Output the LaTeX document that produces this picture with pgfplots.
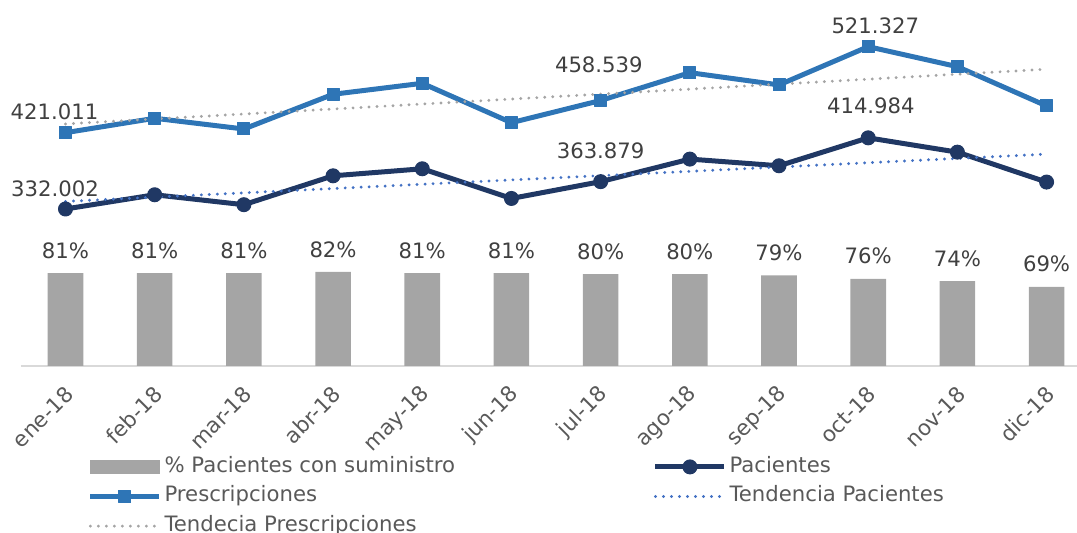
\documentclass[border=0pt]{standalone}
\usepackage{fontspec}
\setmainfont{DejaVu Sans}
\usepackage{pgfplots}
\pgfplotsset{compat=1.18}
\definecolor{presc}{HTML}{2E75B6}
\definecolor{pac}{HTML}{203864}
\definecolor{barc}{HTML}{A5A5A5}
\definecolor{trendb}{HTML}{4472C4}
\definecolor{trendg}{HTML}{A5A5A5}
\definecolor{lbl}{HTML}{404040}
\definecolor{tickc}{HTML}{595959}
\definecolor{axisc}{HTML}{D9D9D9}
\newcommand\lblfont{\fontsize{10.6}{12}\selectfont}

\begin{document}
\begin{tikzpicture}
\pgfplotsset{
  common/.style={scale only axis, width=528pt, height=178pt,
    xmin=-0.5, xmax=11.34, at={(0pt,0pt)}, anchor=south west},
}
% bars: % pacientes con suministro (secondary scale)
\begin{axis}[common,
    ymin=0, ymax=310.4,
    axis y line=none, axis x line*=bottom,
    x axis line style={axisc, line width=0.8pt, -},
    xtick={0,...,11},
    xticklabels={ene-18,feb-18,mar-18,abr-18,may-18,jun-18,jul-18,ago-18,sep-18,oct-18,nov-18,dic-18},
    xtick style={draw=none},
    xticklabel style={font=\fontsize{10.7}{12}\selectfont, text=tickc, inner sep=0pt,
      xshift=2pt, yshift=-7.9pt, rotate=45, anchor=east},
    ybar, bar width=17.8pt,
    point meta=explicit symbolic,
    nodes near coords={\pgfplotspointmeta\%},
    nodes near coords style={font=\lblfont, text=lbl, anchor=center, yshift=11.3pt},
  ]
  \addplot[fill=barc, draw=none] coordinates {
    (0,81)[81] (1,81)[81] (2,81)[81] (3,82)[82] (4,81)[81] (5,81)[81]
    (6,80)[80] (7,80)[80] (8,79)[79] (9,76)[76] (10,74)[74] (11,69)[69]};
\end{axis}
% lines: pacientes / prescripciones (thousands)
\begin{axis}[common,
    ymin=148.9, ymax=564.1,
    axis lines=none, clip=false,
    legend image code/.code={\draw[mark repeat=2, mark phase=2, #1]
      plot coordinates {(0pt,0pt) (17.25pt,0pt) (34.5pt,0pt)};},
    legend columns=2, legend cell align=left,
    legend style={at={(axis description cs:0.0635,-0.256)}, anchor=north west,
      draw=none, fill=none, inner sep=0pt, outer sep=0pt,
      font=\lblfont, text=tickc, row sep=5pt,
      nodes={inner sep=0pt, text height=7.6pt, text depth=2.2pt},
      /tikz/every odd column/.style={column sep=1.3pt},
      /tikz/every even column/.style={column sep=94.2pt}},
  ]
  \addlegendimage{legend image code/.code={\fill[barc] (0pt,-3.3pt) rectangle (34.5pt,3.3pt);}}
  \addlegendentry{\makebox[150pt][l]{\% Pacientes con suministro}}

  \addplot[pac, line width=2.5pt, line join=round, mark=*, mark size=3.5pt,
      mark options={line width=0.5pt}] coordinates {
    (0,332.002) (1,348.6) (2,337.0) (3,370.7) (4,378.9) (5,344.3)
    (6,363.879) (7,390.2) (8,382.4) (9,414.984) (10,398.3) (11,363.4)};
  \addlegendentry{Pacientes}

  \addplot[presc, line width=2.5pt, line join=round, mark=square*, mark size=3pt,
      mark options={line width=0.5pt}] coordinates {
    (0,421.011) (1,437.8) (2,425.3) (3,465.8) (4,478.6) (5,432.7)
    (6,458.539) (7,491.0) (8,476.7) (9,521.327) (10,498.0) (11,452.2)};
  \addlegendentry{\makebox[150pt][l]{Prescripciones}}

  \addplot[trendb, line width=1.6pt, line cap=round, dash pattern=on 0pt off 4pt]
    coordinates {(0,340.8) (11,396.0)};
  \addlegendentry{Tendencia Pacientes}

  \addplot[trendg, line width=1.6pt, line cap=round, dash pattern=on 0pt off 4pt]
    coordinates {(0,431.2) (11,495.0)};
  \addlegendentry{\makebox[150pt][l]{Tendecia Prescripciones}}

  % data labels
  \node[font=\lblfont, text=lbl] at (axis cs:-0.123,445.2) {421.011};
  \node[font=\lblfont, text=lbl] at (axis cs:5.98,500.6) {458.539};
  \node[font=\lblfont, text=lbl] at (axis cs:9.08,545.8) {521.327};
  \node[font=\lblfont, text=lbl] at (axis cs:-0.118,355.9) {332.002};
  \node[font=\lblfont, text=lbl] at (axis cs:6.0,400.0) {363.879};
  \node[font=\lblfont, text=lbl] at (axis cs:9.03,452.2) {414.984};
\end{axis}
\pgfresetboundingbox
\path (-10.45pt,-83.5pt) rectangle (528.05pt,183pt);
\end{tikzpicture}
\end{document}
